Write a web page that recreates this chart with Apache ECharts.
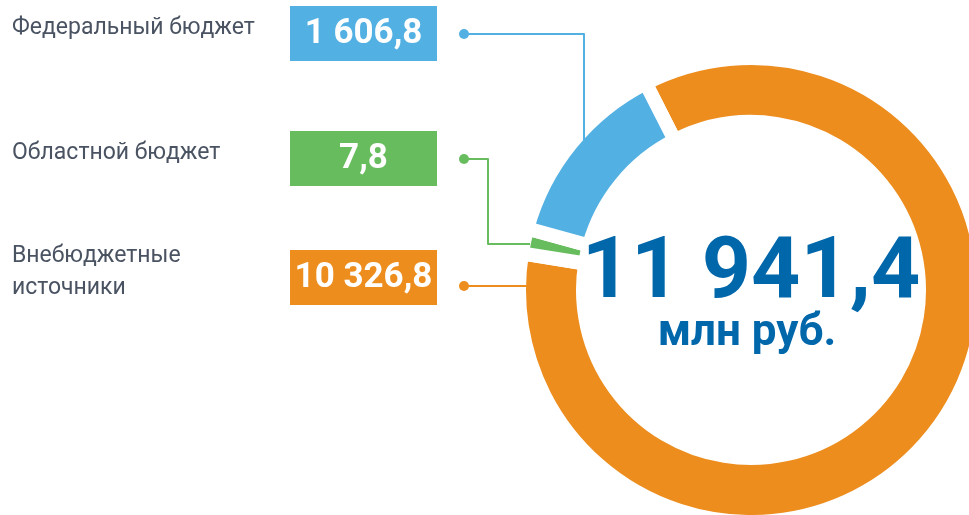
<!DOCTYPE html>
<html>
<head>
<meta charset="utf-8">
<script src="https://cdn.jsdelivr.net/npm/echarts@6/dist/echarts.min.js"></script>
<style>
  html, body { margin: 0; padding: 0; background: #fff; }
  #chart { width: 969px; height: 515px; }
</style>
</head>
<body>
<div id="chart"></div>
<script>
// источники финансирования, млн руб. (порядок по часовой стрелке от верха)
var names = ['Внебюджетные\nисточники', 'Областной бюджет', 'Федеральный бюджет'];
var values = [10326.8, 7.8, 1606.8];
var colors = ['#ec8d1e', '#67bd5e', '#52b0e2'];
var totalLabel = '11 941,4';
var unitLabel = 'млн руб.';

// форматирование числа: "1 606,8"
function fmt(v) {
    var parts = v.toFixed(1).split('.');
    var int = parts[0].replace(/\B(?=(\d{3})+(?!\d))/g, ' ');
    return int + ',' + parts[1];
}

var chart = echarts.init(document.getElementById('chart'));

var textColor = '#4a5362';
var numFont = 'Roboto, "DejaVu Sans", sans-serif';

// строки легенды слева
var rows = [
    { idx: 2, nameTop: 12, boxY: 6, line: [[464, 34], [584, 34], [584, 140]] },
    { idx: 1, nameTop: 137, boxY: 131, line: [[464, 159], [488, 159], [488, 244], [530, 244]] },
    { idx: 0, nameTop: 240, boxY: 250, line: [[464, 286], [528, 286]] }
];

var graphics = [];
rows.forEach(function (r) {
    var c = colors[r.idx];
    graphics.push({
        type: 'text', left: 12, top: r.nameTop,
        style: { text: names[r.idx], fill: textColor, font: '400 23px Roboto, sans-serif', lineHeight: 32 }
    });
    graphics.push({
        type: 'rect', shape: { x: 290, y: r.boxY, width: 147, height: 55 },
        style: { fill: c }
    });
    graphics.push({
        type: 'text', x: 363.5, y: r.boxY + 28,
        style: { text: fmt(values[r.idx]), fill: '#fff', font: 'bold 35px ' + numFont, align: 'center', verticalAlign: 'middle' }
    });
    graphics.push({
        type: 'polyline', z: 10, shape: { points: r.line },
        style: { stroke: c, lineWidth: 2, fill: null, lineJoin: 'round' }
    });
    graphics.push({
        type: 'circle', z: 10, shape: { cx: r.line[0][0], cy: r.line[0][1], r: 5 },
        style: { fill: c }
    });
});

graphics.push({
    type: 'text', x: 751, y: 275, z: 10,
    style: { text: totalLabel, fill: '#0067ab', font: 'bold 86px ' + numFont, align: 'center', verticalAlign: 'middle' }
});
graphics.push({
    type: 'text', x: 747, y: 334, z: 10,
    style: { text: unitLabel, fill: '#0067ab', font: 'bold 44px ' + numFont, align: 'center', verticalAlign: 'middle' }
});

var option = {
    animation: false,
    series: [{
        type: 'pie',
        z: 1,
        center: [751, 290],
        radius: [168, 232],
        startAngle: 117,
        clockwise: true,
        minAngle: 6.3,
        avoidLabelOverlap: false,
        label: { show: false },
        labelLine: { show: false },
        emphasis: { disabled: true },
        itemStyle: { borderColor: '#fff', borderWidth: 14 },
        data: names.map(function (n, i) {
            return { name: n, value: values[i], itemStyle: { color: colors[i] } };
        })
    }],
    graphic: graphics
};
chart.setOption(option);
</script>
</body>
</html>
